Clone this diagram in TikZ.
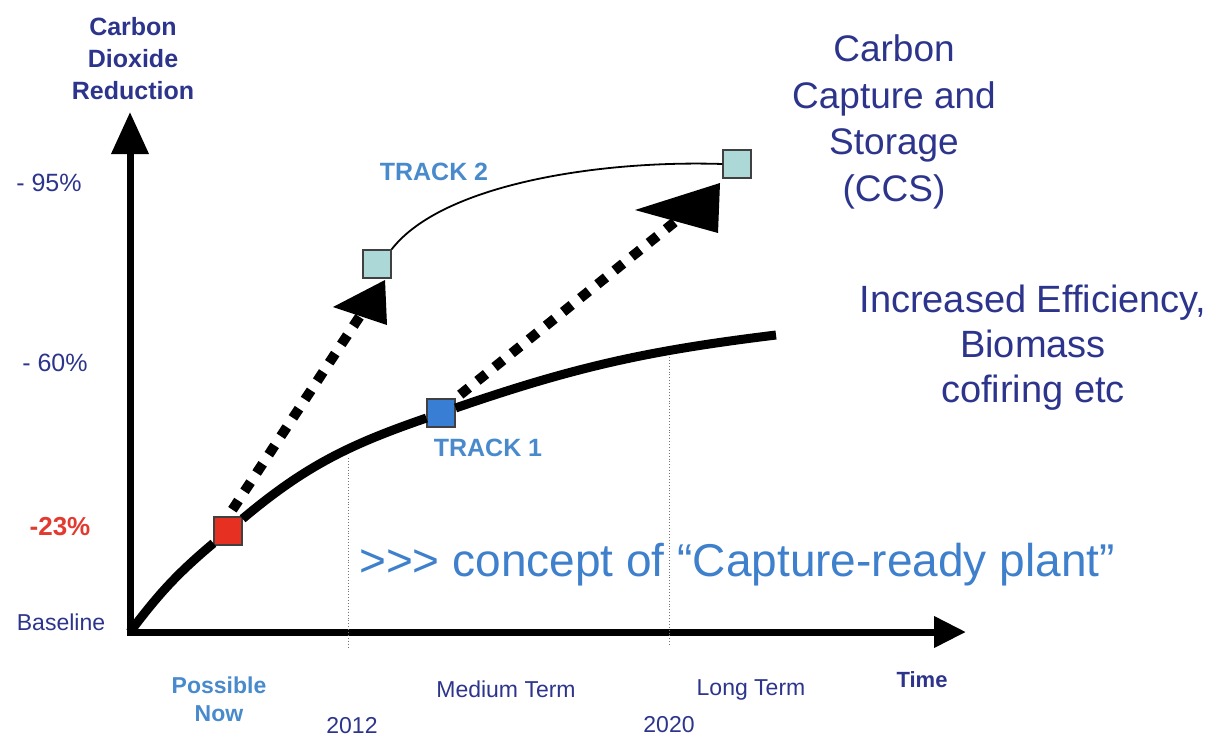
\documentclass[tikz,border=0pt]{standalone}
\usepackage{fontspec}
\setmainfont{Liberation Sans}
\usepackage{tikz}
\usetikzlibrary{arrows.meta, positioning}

\definecolor{navy}{RGB}{44,52,140}
\definecolor{trackblue}{RGB}{72,138,204}
\definecolor{conceptblue}{RGB}{62,128,204}
\definecolor{lowred}{RGB}{226,58,48}
\definecolor{sqred}{RGB}{230,48,34}
\definecolor{sqblue}{RGB}{56,126,212}
\definecolor{sqteal}{RGB}{172,216,216}

\newcommand{\fsz}[2]{\fontsize{#1}{#2}\selectfont}

\begin{document}
\begin{tikzpicture}[x=1pt, y=1pt,
  axisline/.style={line width=7pt},
  sq/.style={draw=black!75, line width=1.2pt, minimum size=28pt, inner sep=0pt},
  track1/.style={line width=9pt},
  track2/.style={line width=1.8pt},
  dasharrow/.style={line width=10pt, dash pattern=on 11pt off 11pt},
  guide/.style={dotted, black!55, line width=0.9pt},
  ticklbl/.style={text=navy, font=\fsz{25}{30}},
  timelbl/.style={text=navy, font=\fsz{23}{28}},
  tracklbl/.style={text=trackblue, font=\fsz{25}{30}\bfseries},
  biglbl/.style={text=navy, align=center}
]
\useasboundingbox (0,0) rectangle (1214,-737);

%//origin and axis ends
\coordinate (o) at (130,-632);
\coordinate (yend) at (130,-112);
\coordinate (xend) at (966,-632);

\draw[axisline, -{Triangle[length=42pt, width=36pt]}] (o) -- (yend);
\draw[axisline, -{Triangle[length=32pt, width=30pt]}] ([xshift=-3.5pt]o) -- (xend);

% time marks
\draw[guide] (348,-458) -- (348,-648);
\draw[guide] (669,-357) -- (669,-646);

% squares
\node[sq, fill=sqred] (red) at (228,-531) {};
\node[sq, fill=sqblue] (blue) at (441,-413) {};
\node[sq, fill=sqteal] (ccsA) at (377,-264) {};
\node[sq, fill=sqteal] (ccsB) at (737,-164) {};
\coordinate (t1end) at (776,-335);

% arrow heads: tip, then base middle
\coordinate (tipA) at (385,-280);
\coordinate (baseA) at (360,-316);
\coordinate (tipB) at (720,-183);
\coordinate (baseB) at (676,-221);

% track 1 and track 2
\draw[track1] (o) to[out=53, in=220] (red)
  (red) to[out=40, in=199] (blue)
  (blue) to[out=19, in=187] (t1end);
\draw[track2] (ccsA.north east) .. controls (442,-184) and (600,-160) .. (ccsB.west);

\draw[dasharrow, shorten <=8pt] (red.north) -- (baseA);
\fill (tipA) -- (333,-307) -- (387,-325) -- cycle;
\draw[dasharrow, shorten <=6pt] (blue.north east) -- (baseB);
\fill (tipB) -- (635,-210) -- (718,-233) -- cycle;

% labels
\node[text=navy, font=\fsz{25}{32}\bfseries, align=center] (ylab) at (133,-59) {Carbon\\Dioxide\\Reduction};
\node[ticklbl] (p95) at (49,-183) {- 95\%};
\node[ticklbl] (p60) at (55,-363) {- 60\%};
\node[text=lowred, font=\fsz{26}{30}\bfseries] (p23) at (60,-527) {-23\%};
\node[timelbl] (base) at (61,-622) {Baseline};

\node[text=trackblue, font=\fsz{23}{28}\bfseries, align=center] (now) at (219,-699) {Possible\\Now};
\node[timelbl] (y2012) at (352,-726) {2012};
\node[timelbl] (mid) at (506,-689) {Medium Term};
\node[timelbl] (long) at (751,-690) {Long Term};
\node[timelbl] (y2020) at (669,-725) {2020};
\node[text=navy, font=\fsz{22}{26}\bfseries] (time) at (922,-680) {Time};

\node[tracklbl] (tr2) at (434,-172) {TRACK 2};
\node[tracklbl] (tr1) at (488,-448) {TRACK 1};

\node[biglbl, font=\fsz{37}{46.7}] (ccs) at (894,-122) {Carbon\\Capture and\\Storage\\(CCS)};
\node[biglbl, font=\fsz{38}{45}] (eff) at (1033,-348) {Increased Efficiency,\\Biomass\\cofiring etc};
\node[text=conceptblue, font=\fsz{46}{50}] (plant) at (737,-565) {>{}>{}> concept of “Capture-ready plant”};
\end{tikzpicture}
\end{document}
